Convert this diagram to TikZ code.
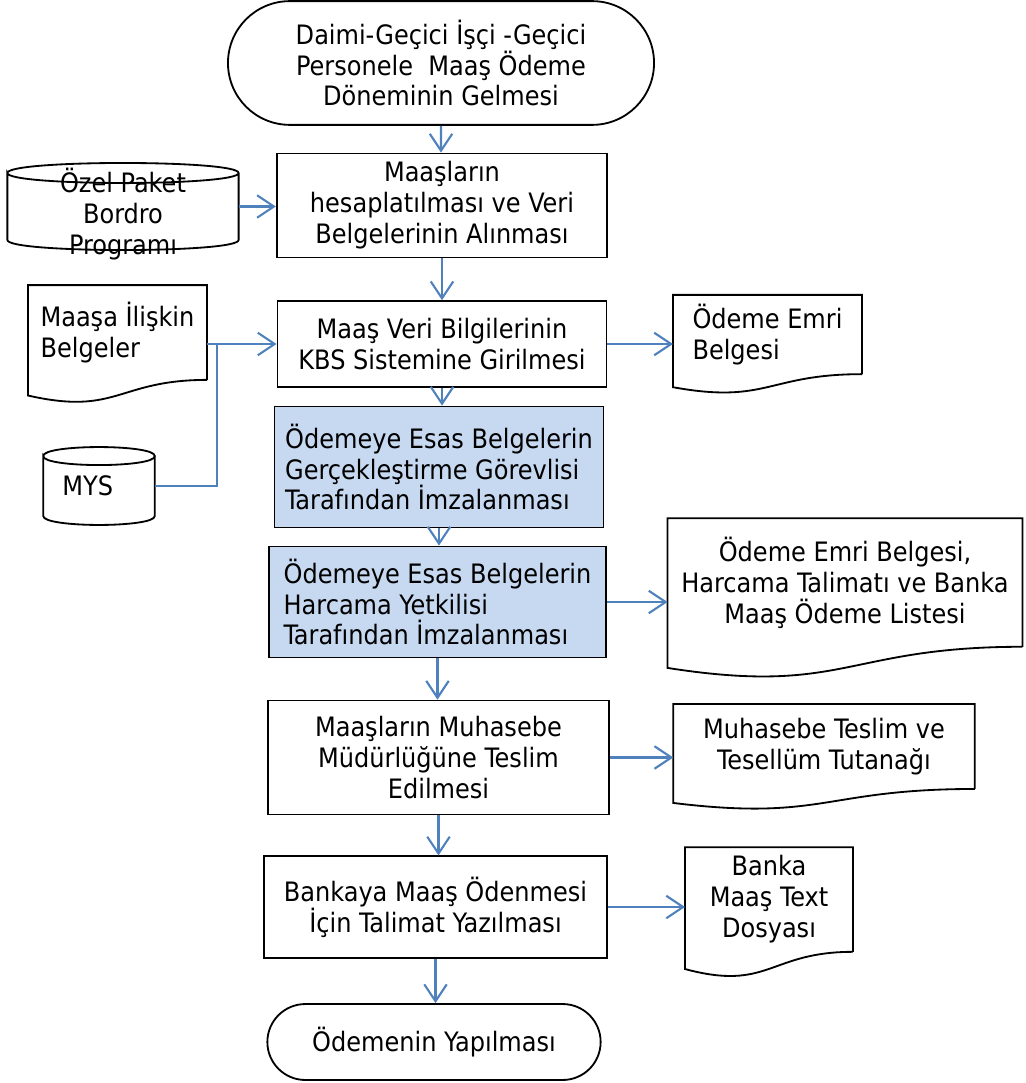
\documentclass[tikz,border=0pt]{standalone}
\usepackage{fontspec}
\setmainfont{DejaVu Sans Condensed}
\usetikzlibrary{shapes.misc, arrows.meta, calc}

\definecolor{flowblue}{HTML}{4F81BD}
\definecolor{signfill}{HTML}{C6D9F1}

\tikzset{
    txt/.style={inner sep=0pt, font=\fontsize{19}{22}\selectfont},
    proc/.style={txt, rectangle, draw, line width=1.3pt, align=center},
    term/.style={txt, rounded rectangle, draw, line width=1.3pt, align=center},
    docu/.style={txt, rectangle, align=center},
    store/.style={txt, rectangle, align=center},
    flow/.style={draw=flowblue, line width=1.7pt, -{Straight Barb[length=12pt, width=16pt, line width=1.5pt]}},
    joint/.style={draw=flowblue, line width=1.7pt},
}

% document symbol: node box is the part above the wavy edge
\newcommand{\docpath}[1]{%
    \draw[line width=1.3pt] (#1.south east) -- (#1.north east) -- (#1.north west)
        -- ($(#1.north west)!1.1646!(#1.south west)$)
        .. controls ($(#1.north)!1.381!(#1.south)$) and (#1.south) .. (#1.south east);}

% data store symbol, #2 = half height of the ellipse
\newcommand{\cylpath}[2]{%
    \draw[line width=1.3pt] ($(#1.north west)+(0,#2)$)
        .. controls ($(#1.north west)+(0,-#2/3)$) and ($(#1.north east)+(0,-#2/3)$) .. ($(#1.north east)+(0,#2)$)
        .. controls ($(#1.north east)+(0,7*#2/3)$) and ($(#1.north west)+(0,7*#2/3)$) .. ($(#1.north west)+(0,#2)$)
        -- ($(#1.south west)+(0,-#2)$)
        .. controls ($(#1.south west)+(0,#2/3)$) and ($(#1.south east)+(0,#2/3)$) .. ($(#1.south east)+(0,-#2)$)
        -- ($(#1.north east)+(0,#2)$);}

\begin{document}
\begin{tikzpicture}[x=0.025cm, y=-0.025cm]
    \useasboundingbox (0,0) rectangle (1025,1083);

    % main column
    \node[term, minimum width=303pt, minimum height=88pt] at (441,63) (start) {Daimi-Geçici İşçi -Geçici\\Personele~ Maaş Ödeme\\Döneminin Gelmesi};
    \node[proc, minimum width=235pt, minimum height=74pt] at (442,205.5) (hesap) {Maaşların\\hesaplatılması ve Veri\\Belgelerinin Alınması};
    \node[proc, minimum width=234pt, minimum height=61pt] at (442,344) (kbs) {Maaş Veri Bilgilerinin\\KBS Sistemine Girilmesi};
    \node[proc, fill=signfill, align=left, minimum width=234pt, minimum height=86pt] at (439,467) (gorevli) {Ödemeye Esas Belgelerin\\Gerçekleştirme Görevlisi\\Tarafından İmzalanması};
    \node[proc, fill=signfill, align=left, minimum width=240pt, minimum height=79pt] at (437.5,602) (yetkili) {Ödemeye Esas Belgelerin\\Harcama Yetkilisi\\Tarafından İmzalanması};
    \node[proc, minimum width=243pt, minimum height=81pt] at (438.5,757.5) (muhasebe) {Maaşların Muhasebe\\Müdürlüğüne Teslim\\Edilmesi};
    \node[proc, minimum width=244pt, minimum height=72pt] at (435.5,907) (talimat) {Bankaya Maaş Ödenmesi\\İçin Talimat Yazılması};
    \node[term, minimum width=237pt, minimum height=54pt] at (434,1042) (son) {Ödemenin Yapılması};

    % inputs on the left
    \node[store, text height=42pt, text depth=19.5pt, minimum width=164pt] at (123,206.5) (bordro) {\begin{tabular}{@{}c@{}}Özel Paket\\Bordro\\Programı\end{tabular}};
    \cylpath{bordro}{10}
    \node[docu, align=left, minimum width=127pt, minimum height=67pt] at (117.5,332.5) (belge) {Maaşa İlişkin\\Belgeler};
    \docpath{belge}
    \node[store, align=left, text width=52pt, minimum width=79pt, minimum height=55pt] at (99,486) (mys) {MYS};
    \cylpath{mys}{9}
    \coordinate (birles) at (217,344);

    % outputs on the right
    \node[docu, align=left, minimum width=134pt, minimum height=56pt] at (767.5,334.5) (emri) {Ödeme Emri\\Belgesi};
    \docpath{emri}
    \node[docu, minimum width=252pt, minimum height=91pt] at (845,582.5) (liste) {Ödeme Emri Belgesi,\\Harcama Talimatı ve Banka\\Maaş Ödeme Listesi};
    \docpath{liste}
    \node[docu, minimum width=214pt, minimum height=60pt] at (824,746.5) (tutanak) {Muhasebe Teslim ve\\Tesellüm Tutanağı};
    \docpath{tutanak}
    \node[docu, minimum width=119pt, minimum height=74pt] at (769,899.5) (banka) {Banka\\Maaş Text\\Dosyası};
    \docpath{banka}

    % connectors
    \draw[flow] (start) -- (start.south |- hesap.north);
    \draw[flow] (hesap) -- (hesap.south |- kbs.north);
    \draw[flow] (kbs.south) -- (kbs.south |- gorevli.north);
    \draw[flow] (gorevli.south) -- (gorevli.south |- yetkili.north);
    \draw[flow] (yetkili.south) -- (yetkili.south |- muhasebe.north);
    \draw[flow] (muhasebe.south) -- (muhasebe.south |- talimat.north);
    \draw[flow] (talimat.south) -- (talimat.south |- son.north);

    \draw[flow] (bordro.east) -- (hesap.west |- bordro.east);
    \draw[flow] (belge.east |- kbs.west) -- (kbs.west);
    \draw[joint] (mys.east) -| (birles);

    \draw[flow] (kbs.east) -- (emri.west |- kbs.east);
    \draw[flow] (yetkili.east) -- (liste.west |- yetkili.east);
    \draw[flow] (muhasebe.east) -- (tutanak.west |- muhasebe.east);
    \draw[flow] (talimat.east) -- (banka.west |- talimat.east);
\end{tikzpicture}
\end{document}
